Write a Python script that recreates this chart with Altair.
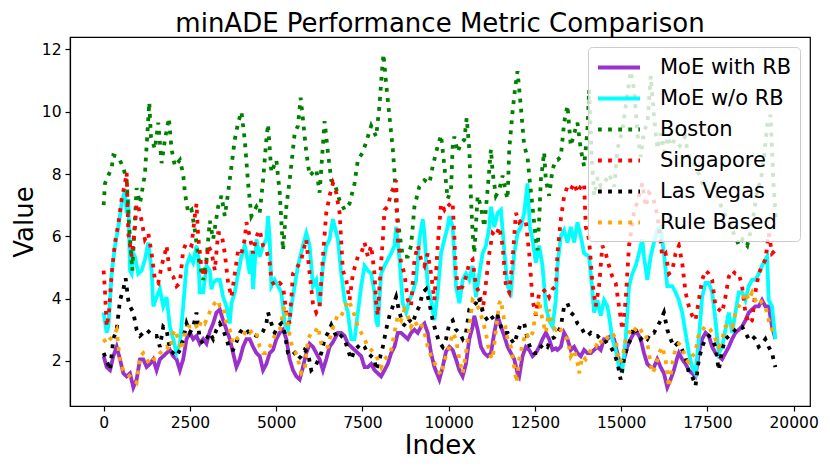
import altair as alt
import pandas as pd

SERIES = ["MoE with RB", "MoE w/o RB", "Boston", "Singapore", "Las Vegas", "Rule Based"]
COLORS = ["#9932CC", "#00FFFF", "#008000", "#FF0000", "#000000", "#FFA500"]

MOE_RB_X = [0,88,185,281,378,474,571,667,764,860,956,1053,1149,1246,1342,1439,1535,1631,1728,1824,1921,2017,2114,2210,2306,2403,2499,2596,2692,2788,2885,2981,3078,3174,3271,3367,3464,3560,3657,3753,3849,3946,4042,4139,4235,4332,4428,4524,4621,4717,4814,4910,5007,5103,5200,5296,5392,5489,5585,5682,5778,5874,5971,6067,6164,6260,6357,6453,6550,6646,6694,6791,6887,6984,7080,7177,7273,7369,7466,7562,7659,7755,7851,7948,8044,8141,8237,8334,8430,8527,8623,8719,8816,8912,9009,9105,9202,9298,9394,9491,9587,9732,9828,9925,10021,10118,10214,10311,10407,10503,10600,10696,10745,10841,10937,11034,11130,11227,11323,11420,11516,11612,11709,11805,11902,11998,12046,12143,12239,12336,12432,12528,12625,12721,12818,12914,13011,13107,13155,13252,13348,13445,13541,13638,13734,13830,13927,14023,14120,14216,14312,14409,14505,14602,14698,14795,14891,14987,15084,15180,15277,15373,15470,15566,15663,15759,15855,15952,16048,16145,16241,16338,16434,16530,16627,16674,16771,16867,16964,17060,17156,17253,17349,17446,17542,17639,17735,17831,17928,18024,18121,18217,18314,18410,18506,18603,18699,18796,18892,18989,19085,19182,19278,19374,19471]
MOE_RB_Y = [2.15,1.8,1.7,2.15,2.45,2.05,1.6,1.5,1.6,1.15,1.4,2.05,2.05,1.8,1.9,2.05,1.7,2.05,2.15,2.25,2.35,2.15,2.05,1.7,2.05,2.7,2.9,2.7,2.8,2.55,2.7,2.55,2.95,3.2,3.55,3.65,3.3,3.0,2.7,2.25,1.8,2.05,2.45,2.7,2.7,2.45,2.25,2.15,1.7,1.9,2.25,2.35,2.7,2.9,3.0,2.7,2.05,1.7,1.5,1.4,1.8,2.25,2.55,2.45,2.25,2.05,1.7,2.05,2.45,2.6,2.7,2.9,2.9,2.8,2.55,2.45,2.35,2.25,2.15,1.8,1.8,1.9,1.7,1.6,1.5,1.7,1.9,2.25,2.45,2.9,2.9,2.8,2.7,2.9,3.0,2.9,3.1,3.2,2.9,2.25,1.8,1.4,1.8,2.3,2.45,2.35,2.05,1.7,1.5,1.9,2.7,3.1,3.45,3.0,2.45,2.25,2.15,2.25,2.9,3.45,3.1,2.8,2.45,2.25,2.05,1.6,1.5,2.15,2.45,2.35,2.15,2.25,2.45,2.7,2.9,2.7,2.35,2.4,2.35,2.45,2.9,2.7,2.35,2.45,2.25,2.15,2.35,2.25,2.25,2.35,2.45,2.35,2.7,2.7,2.8,2.7,2.25,1.8,2.05,2.45,2.7,2.9,2.9,2.7,2.25,1.9,1.8,1.8,2.05,1.8,1.6,1.15,1.4,1.7,2.1,2.25,2.05,1.9,1.7,1.6,1.5,2.25,2.7,2.9,2.8,2.45,2.25,2.15,2.05,2.25,2.45,2.7,2.9,3.0,3.1,3.3,3.55,3.65,3.75,3.75,3.95,3.75,3.75,3.1,2.7]

MOE_X = [0,88,137,233,330,426,523,619,667,715,764,812,860,908,1005,1101,1197,1294,1390,1439,1535,1631,1728,1824,1921,2017,2114,2210,2306,2403,2499,2596,2692,2740,2788,2885,2981,3078,3126,3174,3271,3367,3464,3560,3657,3705,3801,3898,3994,4090,4139,4235,4283,4332,4428,4524,4621,4717,4766,4814,4862,4958,5055,5151,5248,5344,5441,5537,5633,5778,5874,5971,6067,6164,6260,6357,6453,6550,6646,6791,6887,6984,7080,7177,7273,7369,7466,7562,7659,7755,7851,7900,7948,8044,8141,8237,8334,8430,8478,8575,8671,8768,8864,8960,9057,9153,9250,9298,9394,9491,9587,9684,9780,9876,9973,10021,10118,10214,10311,10407,10503,10600,10696,10793,10889,10986,11082,11178,11227,11323,11420,11516,11612,11709,11805,11902,11998,12094,12191,12287,12355,12432,12528,12625,12721,12818,12914,13011,13107,13155,13252,13348,13445,13541,13638,13734,13830,13927,14071,14168,14216,14312,14409,14505,14602,14650,14746,14843,14939,15036,15132,15229,15325,15421,15518,15614,15662,15759,15855,15952,16048,16145,16241,16338,16481,16578,16674,16771,16867,16964,17060,17156,17253,17349,17446,17542,17639,17735,17831,17928,18024,18121,18217,18314,18410,18506,18603,18699,18796,18892,18989,19085,19182,19230,19278,19374,19471]
MOE_Y = [3.55,2.9,3.1,4.8,5.7,6.3,7.05,7.5,6.75,7.2,4.9,4.8,5.45,5.35,4.8,4.9,5.25,5.8,4.9,3.75,4.05,4.3,3.75,4.05,3.1,2.7,2.25,2.55,3.75,5.05,5.35,5.15,5.7,5.35,4.2,4.2,5.05,4.9,4.3,4.5,4.6,4.6,4.05,3.75,3.2,3.85,4.2,4.8,5.35,5.7,5.45,4.8,5.55,4.3,5.9,5.35,5.7,5.9,6.65,5.9,4.4,4.6,4.4,4.2,3.2,3.0,3.75,4.4,5.05,5.7,6.1,5.7,4.4,4.6,3.75,5.05,5.7,5.9,6.55,5.9,4.8,3.95,3.55,2.7,2.7,3.55,4.4,5.05,4.9,4.8,4.2,3.3,3.1,4.8,5.05,5.25,5.45,5.7,6.3,5.25,3.85,3.55,3.95,4.2,4.6,5.9,6.55,6.1,4.4,3.95,3.3,4.2,5.45,5.9,6.3,6.65,6.3,4.4,3.85,4.6,4.8,4.6,5.05,4.05,4.8,5.45,5.7,6.3,6.95,6.3,6.75,6.85,5.55,4.4,4.2,5.45,6.1,6.3,6.75,7.7,6.3,5.9,5.15,5.7,5.05,3.75,3.3,3.1,3.95,5.05,6.0,6.2,5.8,6.3,5.8,6.45,6.0,5.45,5.35,4.2,3.55,3.95,3.45,3.95,3.75,3.45,2.7,2.35,1.8,1.7,2.7,4.4,4.8,5.05,5.45,5.9,5.35,4.6,5.35,5.8,6.2,6.3,5.45,4.4,4.4,4.2,3.95,3.55,2.9,2.25,1.8,1.6,2.7,4.05,4.5,4.5,4.2,3.3,2.25,2.45,3.0,3.55,2.9,3.55,4.2,4.2,3.95,4.4,4.6,4.6,4.8,5.05,5.25,5.35,3.95,3.75,2.7]

BOSTON_X = [0,40,233,281,426,571,667,740,831,956,1053,1197,1323,1371,1487,1583,1680,1776,1892,1969,2065,2210,2306,2355,2451,2548,2644,2740,2885,2981,3078,3174,3319,3416,3512,3608,3705,3801,3898,3994,4090,4187,4283,4428,4524,4621,4717,4766,4862,5007,5103,5200,5296,5392,5537,5633,5710,5778,5874,5971,6067,6164,6260,6405,6501,6598,6694,6839,6984,7128,7273,7369,7514,7659,7755,7900,7996,8064,8112,8189,8285,8382,8430,8478,8575,8671,8816,8912,9009,9153,9298,9443,9539,9684,9780,9877,9973,10070,10118,10166,10262,10359,10455,10523,10600,10648,10696,10745,10841,10937,11034,11130,11227,11275,11371,11468,11564,11660,11709,11757,11853,11931,11998,12094,12191,12287,12336,12432,12528,12576,12625,12673,12769,12818,12914,13011,13107,13155,13252,13348,13445,13541,13638,13734,13830,13927,14023,14071,14150,14220,14320,14410,14510,14650,14800,14893,15038,15135,15279,15376,15472,15569,15665,15762,15858,15955,16051,16150,16250,16350,16450,16550,16700,16850,16950,17100,17250,17400,17550,17700,17850,18000,18150,18300,18420,18520,18655,18800,18950,19050,19150,19235,19330,19420,19490]
BOSTON_Y = [7.0,7.7,8.2,8.6,8.55,8.2,7.8,6.3,4.9,7.55,7.05,8.0,10.3,9.2,8.8,9.65,8.35,9.1,9.8,8.8,8.25,8.45,8.0,7.4,6.75,6.85,6.2,5.35,4.6,5.25,6.5,5.9,6.95,7.3,6.65,7.4,8.25,9.1,9.65,10.0,9.1,7.7,6.65,6.95,6.75,7.8,9.1,9.6,8.05,8.45,7.4,5.55,6.95,7.8,9.3,9.55,10.45,9.75,8.7,7.95,8.05,8.15,7.4,9.7,8.7,7.8,7.7,7.15,6.85,7.05,7.7,8.45,8.7,9.2,9.55,9.2,10.2,11.25,11.85,10.9,9.85,8.8,8.05,6.95,6.1,5.35,5.35,5.7,6.95,7.6,7.8,7.7,8.25,8.9,9.25,8.25,7.2,7.5,8.9,9.2,8.7,9.0,9.1,9.8,8.8,7.2,6.1,5.45,7.3,6.95,6.3,7.5,8.8,8.05,7.3,7.5,7.95,7.4,7.2,8.8,10.0,10.8,11.3,10.15,8.9,8.55,7.95,6.95,5.9,5.55,6.55,7.8,8.7,7.8,7.3,8.15,8.45,8.45,8.55,9.65,10.2,8.9,9.3,9.65,8.8,8.25,9.4,10.7,8.5,7.3,7.9,7.6,7.7,8.0,7.6,8.8,9.4,10.2,11.3,10.7,9.3,8.55,9.4,9.6,11.15,9.85,8.8,9.3,8.7,9.2,8.9,9.1,8.9,9.2,8.6,8.4,8.0,7.6,7.4,7.6,7.1,6.7,6.4,6.0,5.7,5.9,5.7,6.4,7.5,7.8,8.6,9.6,9.9,7.6,6.5]

SING_X = [0,40,88,156,233,330,426,523,619,667,715,812,908,956,1005,1101,1197,1294,1390,1487,1583,1680,1776,1824,1921,2017,2114,2210,2306,2403,2548,2644,2692,2740,2837,2933,3030,3126,3223,3319,3416,3512,3608,3705,3801,3898,3994,4090,4139,4235,4332,4428,4524,4621,4717,4814,4862,4958,5103,5200,5296,5392,5489,5633,5730,5826,5874,5971,6067,6164,6260,6357,6453,6550,6646,6742,6839,6935,7032,7128,7225,7369,7466,7562,7659,7755,7851,7900,7948,7996,8093,8141,8237,8334,8430,8478,8527,8623,8719,8816,8912,9009,9105,9202,9298,9394,9491,9587,9684,9780,9876,9973,10070,10118,10166,10214,10311,10407,10503,10600,10696,10793,10889,10986,11082,11178,11275,11371,11468,11564,11660,11757,11853,11950,12046,12143,12239,12336,12432,12528,12625,12721,12818,12914,13011,13107,13155,13252,13348,13445,13541,13638,13734,13830,13927,13975,14071,14168,14264,14361,14457,14554,14650,14746,14843,14939,15036,15132,15229,15373,15518,15614,15711,15807,15904,16000,16097,16193,16289,16386,16482,16578,16674,16771,16867,16964,17060,17156,17253,17349,17446,17542,17639,17735,17831,17928,18024,18121,18217,18314,18410,18506,18603,18699,18796,18892,18989,19085,19182,19278,19374,19471]
SING_Y = [4.9,4.2,3.1,3.55,4.8,5.8,6.4,7.2,7.7,8.05,6.1,5.35,6.3,7.05,6.95,6.5,5.9,6.1,5.45,4.6,4.5,5.05,5.45,5.7,4.8,4.7,4.4,4.5,5.55,5.8,5.7,6.65,7.05,6.0,4.95,4.7,5.7,5.5,4.9,6.1,6.1,5.45,4.5,4.05,4.8,5.55,5.45,5.9,6.45,6.0,5.45,6.0,6.2,5.7,5.55,5.15,4.6,4.4,4.5,4.4,3.55,3.2,4.8,5.05,5.25,5.7,5.9,4.8,3.85,3.55,3.75,5.35,6.75,7.3,7.7,7.4,6.75,4.9,4.6,3.95,4.8,5.35,5.45,5.8,5.35,5.7,4.8,3.85,3.45,4.4,5.9,6.85,6.95,7.4,7.6,7.8,5.9,5.15,4.8,3.95,3.75,5.25,5.7,5.25,5.05,5.45,4.8,3.95,5.7,7.05,6.85,7.05,6.95,7.05,6.0,4.8,4.2,4.4,4.7,5.15,5.25,4.4,4.2,3.6,4.5,5.45,6.1,6.0,6.3,5.7,4.4,4.2,5.25,6.75,6.45,6.55,6.45,5.45,3.95,3.45,4.2,4.2,4.3,4.05,4.3,4.4,5.45,6.55,7.3,7.6,7.5,7.7,7.4,7.6,7.7,6.3,5.9,4.5,3.75,4.4,5.7,5.45,5.05,4.7,4.5,3.75,3.0,3.95,5.7,6.75,7.3,7.7,6.95,7.4,7.3,6.95,6.3,5.35,5.45,4.8,4.9,5.45,5.7,5.15,4.2,3.75,3.45,3.3,3.95,4.6,4.9,4.8,4.6,3.75,3.65,3.55,4.05,4.7,4.9,4.8,4.8,4.4,3.55,3.2,3.3,4.2,4.8,5.05,5.25,6.1,5.45,5.55]

LV_X = [0,88,185,281,378,474,571,638,715,764,860,956,1053,1149,1246,1342,1439,1535,1631,1728,1824,1921,2017,2114,2210,2306,2403,2499,2596,2692,2788,2885,2981,3078,3174,3271,3367,3464,3560,3657,3753,3849,3946,4042,4139,4235,4332,4428,4524,4621,4717,4766,4862,4958,5055,5151,5248,5344,5441,5537,5633,5730,5826,5923,6019,6116,6212,6309,6405,6501,6598,6694,6791,6887,6984,7080,7177,7273,7369,7466,7562,7659,7755,7851,7900,7996,8093,8189,8285,8382,8478,8575,8671,8768,8864,8960,9057,9153,9250,9346,9443,9539,9636,9732,9828,9925,10021,10118,10214,10311,10407,10503,10600,10696,10793,10870,10937,11034,11130,11227,11323,11420,11516,11612,11709,11805,11902,11998,12094,12191,12287,12384,12480,12577,12673,12769,12866,12962,13059,13155,13252,13348,13445,13541,13638,13734,13830,13927,14023,14120,14216,14312,14409,14505,14602,14698,14795,14891,14987,15084,15180,15277,15373,15470,15566,15663,15759,15855,15952,16048,16145,16241,16338,16434,16530,16627,16720,16867,16964,17060,17156,17253,17349,17446,17542,17639,17735,17831,17928,18024,18121,18217,18314,18410,18506,18603,18699,18796,18892,18989,19085,19182,19278,19374,19471]
LV_Y = [2.25,2.0,1.7,2.7,3.0,3.95,4.3,4.65,3.95,3.75,3.55,3.0,2.8,2.9,3.0,2.9,2.8,2.8,2.45,3.1,3.0,2.35,2.25,2.15,2.35,2.7,3.2,2.9,3.1,3.55,2.7,2.55,2.7,2.9,2.7,3.0,3.2,3.0,2.7,2.35,2.35,2.6,2.9,3.05,3.0,2.85,2.85,2.8,2.8,2.95,3.2,3.55,3.2,2.9,3.1,3.2,2.9,2.25,2.15,2.25,2.05,2.15,2.35,2.25,1.7,1.8,2.0,2.25,2.7,2.9,3.15,2.9,2.7,2.8,2.7,2.35,2.05,2.35,2.45,2.55,2.45,2.25,2.15,2.05,1.7,2.05,2.45,3.0,3.45,3.75,4.05,3.55,3.2,3.1,3.3,3.2,3.55,3.75,4.2,4.3,3.85,3.3,2.9,2.6,2.45,2.7,3.2,3.3,3.0,2.9,2.7,2.9,3.65,3.75,3.85,4.05,3.75,3.45,3.3,3.45,3.3,3.45,3.1,2.9,2.9,2.7,2.55,2.9,3.2,3.2,2.7,2.35,2.25,2.25,2.45,2.55,2.45,2.7,2.75,2.9,3.1,3.75,3.85,3.55,3.45,3.2,3.1,2.9,2.8,2.9,2.8,2.8,2.7,2.7,2.55,2.45,2.25,1.95,1.4,2.05,2.45,2.7,3.1,2.9,2.7,2.8,2.7,2.9,2.9,3.1,3.3,3.55,3.0,2.7,2.45,2.55,2.45,2.15,1.6,1.5,1.2,2.05,2.45,2.7,2.8,2.7,2.45,1.7,2.35,2.7,2.8,2.9,3.0,3.1,3.1,2.9,2.7,2.8,2.7,2.45,2.55,2.7,2.45,2.25,1.8]

RULE_X = [0,88,185,281,378,474,571,667,764,860,956,1053,1149,1246,1342,1439,1535,1631,1728,1824,1921,2017,2065,2162,2258,2355,2451,2548,2644,2740,2837,2933,3030,3126,3222,3319,3367,3464,3560,3657,3753,3849,3946,4042,4139,4235,4332,4428,4524,4621,4717,4814,4910,5007,5103,5200,5248,5344,5441,5537,5633,5730,5826,5923,6019,6116,6212,6309,6405,6501,6598,6694,6791,6887,6984,7080,7177,7273,7369,7466,7562,7659,7755,7851,7948,8044,8141,8237,8334,8430,8527,8623,8719,8816,8912,9009,9105,9202,9298,9394,9491,9587,9684,9780,9876,9973,10021,10118,10214,10311,10407,10503,10600,10696,10793,10889,10986,11082,11178,11275,11371,11468,11516,11612,11709,11805,11902,11969,12046,12143,12239,12336,12432,12528,12625,12721,12818,12914,13011,13107,13155,13252,13348,13445,13541,13638,13734,13782,13879,13975,14071,14168,14264,14361,14457,14554,14650,14746,14843,14939,15036,15132,15229,15325,15421,15518,15614,15711,15807,15904,16000,16097,16193,16289,16386,16482,16578,16674,16771,16867,16964,17060,17156,17253,17349,17446,17542,17639,17735,17831,17928,18024,18121,18217,18314,18410,18506,18603,18699,18796,18892,18989,19085,19182,19278,19374,19471]
RULE_Y = [2.7,2.55,2.7,2.8,3.0,1.95,1.7,1.6,1.5,1.4,1.3,2.15,2.25,2.05,1.9,2.05,2.05,2.25,2.35,2.45,2.35,2.9,3.0,2.7,2.35,2.9,3.1,3.1,3.2,3.0,3.3,3.2,3.45,3.7,3.85,3.95,3.75,3.75,3.2,3.0,2.55,2.7,2.8,2.8,3.0,2.9,3.0,2.9,2.45,2.25,2.25,2.45,2.7,2.9,3.0,3.55,3.75,3.1,2.55,2.35,2.05,1.6,1.7,2.7,2.9,2.9,3.1,2.55,2.4,2.45,2.9,3.2,3.5,3.45,3.65,3.95,3.75,3.45,3.1,2.9,2.7,2.45,2.35,2.25,2.05,1.8,2.05,2.15,2.35,2.9,3.45,3.3,3.65,3.45,3.1,3.3,3.1,3.2,2.9,2.45,2.15,1.95,1.7,1.55,2.0,2.3,2.45,2.9,2.7,2.05,1.6,2.25,3.1,3.95,3.85,3.65,3.3,2.9,2.25,2.05,3.0,3.85,3.95,3.3,2.7,2.45,1.8,1.3,2.05,2.55,2.9,2.7,2.9,3.55,3.95,3.3,2.9,3.65,3.1,3.0,3.1,3.0,2.8,2.7,2.15,2.35,1.95,1.6,2.15,2.05,2.25,2.45,2.45,2.7,2.55,2.7,2.8,2.9,2.7,1.95,2.05,2.7,2.9,3.1,3.0,3.1,2.9,2.9,2.25,1.6,1.8,2.25,2.45,2.05,1.15,1.9,2.4,2.55,2.45,2.05,1.95,2.15,2.25,2.9,3.0,3.1,3.1,2.9,2.7,2.45,2.7,3.1,3.2,3.1,3.55,3.75,3.95,4.2,3.95,4.2,3.95,4.05,3.85,3.75,3.3,3.0,2.9]

X_TICKS = [0, 2500, 5000, 7500, 10000, 12500, 15000, 17500, 20000]
Y_TICKS = [2, 4, 6, 8, 10, 12]

SOURCES = [
    (SERIES[0], MOE_RB_X, MOE_RB_Y),
    (SERIES[1], MOE_X, MOE_Y),
    (SERIES[2], BOSTON_X, BOSTON_Y),
    (SERIES[3], SING_X, SING_Y),
    (SERIES[4], LV_X, LV_Y),
    (SERIES[5], RULE_X, RULE_Y),
]

frames = []
for name, xs, ys in SOURCES:
    frames.append(pd.DataFrame({"series": name, "Index": xs, "Value": ys}))
df = pd.concat(frames, ignore_index=True)

DASHES = [[1, 0], [1, 0], [3.8, 6.3], [3.8, 6.3], [3.8, 6.3], [3.8, 6.3]]

x_enc = alt.X("Index:Q", scale=alt.Scale(domain=[-975, 20475], nice=False, zero=False),
              axis=alt.Axis(values=X_TICKS, format="d", title="Index"))
y_enc = alt.Y("Value:Q", scale=alt.Scale(domain=[0.55, 12.4], nice=False, zero=False),
              axis=alt.Axis(values=Y_TICKS, format="d", title="Value"))
color_enc = alt.Color("series:N", scale=alt.Scale(domain=SERIES, range=COLORS),
                      legend=alt.Legend(title=None))
dash_enc = alt.StrokeDash("series:N", scale=alt.Scale(domain=SERIES, range=DASHES),
                          legend=alt.Legend(title=None))

layers = []
for name in SERIES:
    layers.append(
        alt.Chart(df)
        .transform_filter(alt.datum.series == name)
        .mark_line(strokeWidth=3.8, clip=True)
        .encode(x=x_enc, y=y_enc, color=color_enc, strokeDash=dash_enc, order="Index:Q")
    )

chart = (
    alt.layer(*layers)
    .properties(
        width=740,
        height=369,
        title=alt.Title("minADE Performance Metric Comparison", fontSize=26,
                        fontWeight="normal", color="black", anchor="middle", offset=0),
        autosize=alt.AutoSizeParams(type="none"),
        padding={"left": 62, "top": 29, "right": 12, "bottom": 58},
    )
    .configure(font="DejaVu Sans")
    .configure_view(stroke="black", strokeWidth=1.2)
    .configure_axis(
        grid=False, labelFontSize=15.5, labelColor="black", tickColor="black",
        domainColor="black", tickSize=5, tickWidth=1.2, domainWidth=1.2,
        titleFontSize=26, titleFontWeight="normal", titleColor="black",
        labelPadding=4,
    )
    .configure_axisX(titlePadding=2)
    .configure_axisY(titlePadding=4)
    .configure_legend(
        orient="top-right", offset=10, padding=8,
        fillColor="rgba(255,255,255,0.8)", strokeColor="#cccccc", cornerRadius=4,
        labelFontSize=21, labelColor="black", labelOffset=39,
        symbolType="M-1,0H3", symbolSize=441, symbolStrokeWidth=3.8, rowPadding=8,
    )
)

chart.save("out.html", embed_options={"renderer": "svg", "actions": False})
